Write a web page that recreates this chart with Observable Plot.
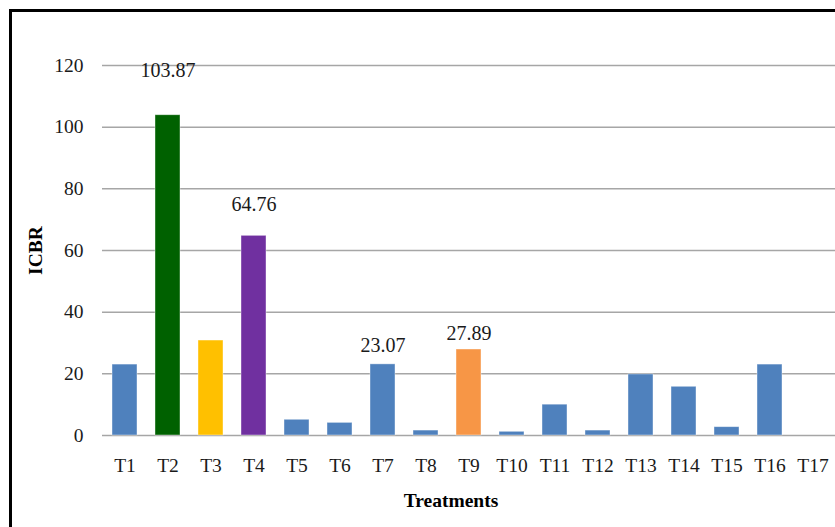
<!DOCTYPE html>
<html>
<head>
<meta charset="utf-8">
<script src="https://cdn.jsdelivr.net/npm/d3@7"></script>
<script src="https://cdn.jsdelivr.net/npm/@observablehq/plot@0.6"></script>
<style>
  html, body { margin: 0; padding: 0; background: #fff; overflow: hidden; }
  #wrap { position: relative; width: 835px; height: 527px; }
  #frame { position: absolute; left: 9px; top: 9px; width: 900px; height: 600px;
           border-top: 3px solid #000; border-left: 3px solid #000; box-sizing: border-box; }
  #chart { position: absolute; left: 0; top: 0; }
</style>
</head>
<body>
<div id="wrap"><div id="frame"></div><div id="chart"></div></div>
<script>
const treatments = ["T1","T2","T3","T4","T5","T6","T7","T8","T9","T10","T11","T12","T13","T14","T15","T16","T17"];
const icbr = [23.0, 103.87, 30.8, 64.76, 5.1, 4.1, 23.07, 1.6, 27.89, 1.2, 10.0, 1.6, 19.8, 15.8, 2.7, 23.0, 0];
const yTicks = [0, 20, 40, 60, 80, 100, 120];
const labelled = ["T2", "T4", "T7", "T9"];

const barColor = {T2: "#006100", T3: "#FFC000", T4: "#7030A0", T9: "#F79646"};
const defaultColor = "#4F81BD";
const labelDy = {T2: -45, T4: -31, T7: -19, T9: -16};

const FONT = "Liberation Serif, DejaVu Serif, serif";
const FS = 19.5;

const data = treatments.map((t, i) => ({t, v: icbr[i]}));

const labelMarks = labelled.map(name =>
  Plot.text(data.filter(d => d.t === name), {
    x: "t", y: "v", text: d => d.v.toFixed(2),
    dy: labelDy[name], lineAnchor: "middle",
    fontSize: 20, fontFamily: FONT, fill: "#1a1a1a"
  })
);

const chart = Plot.plot({
  width: 835,
  height: 527,
  marginLeft: 102,
  marginRight: 0,
  marginTop: 65,
  marginBottom: 92,
  style: `font-family: ${FONT}; background: transparent; overflow: visible;`,
  x: {domain: treatments, paddingInner: 0.43, paddingOuter: 0.215, label: null},
  y: {domain: [0, 120], label: null},
  marks: [
    Plot.ruleY(yTicks, {stroke: "#a6a6a6", strokeWidth: 1.5}),
    Plot.barY(data, {
      x: "t", y: "v",
      fill: d => barColor[d.t] || defaultColor,
      stroke: "#ffffff", strokeOpacity: 0.5, strokeWidth: 0.8
    }),
    ...labelMarks,
    Plot.axisY({ticks: yTicks, tickSize: 0, tickPadding: 19, fontSize: FS, fontFamily: FONT, label: null, color: "#1a1a1a"}),
    Plot.axisX({tickSize: 0, tickPadding: 23, fontSize: FS, fontFamily: FONT, label: null, color: "#1a1a1a"}),
    Plot.text(["Treatments"], {frameAnchor: "bottom", dx: -18, dy: 65, lineAnchor: "middle",
      fontSize: FS, fontFamily: FONT, fontWeight: "bold", fill: "#000"}),
    Plot.text(["ICBR"], {frameAnchor: "left", dx: -67, rotate: -90, lineAnchor: "middle",
      textAnchor: "middle", fontSize: FS, fontFamily: FONT, fontWeight: "bold", fill: "#000"})
  ]
});

document.getElementById("chart").appendChild(chart);
</script>
</body>
</html>
